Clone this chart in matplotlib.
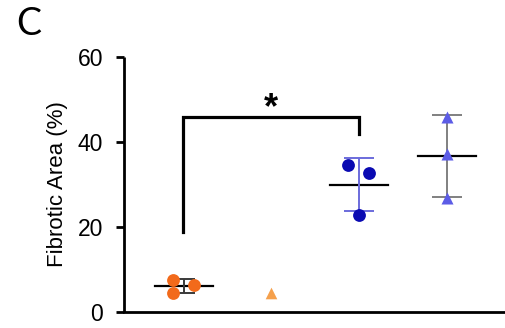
import matplotlib
matplotlib.use("Agg")
import matplotlib.pyplot as plt
import numpy as np

# fibrotic area per animal, four groups
group_pos = [0, 1, 2, 3]
vals_g1 = [7.5, 4.4, 6.35]
vals_g2 = [4.4]
vals_g3 = [34.6, 32.6, 22.8]
vals_g4 = [46.0, 37.2, 26.8]

yticks = [0, 20, 40, 60]
ylabel = "Fibrotic Area (%)"
panel = "C"

# significance bracket between group 1 and group 3
bracket_x = [0, 2]
bracket_y = [18.8, 45.8, 41.9]
star = "*"

# horizontal scatter of the dots inside a column
jit_g1 = [-0.117, -0.117, 0.117]
jit_g3 = [-0.12, 0.113, 0.0]
jit_g4 = [0.0, 0.0, 0.0]

plt.rcParams["font.family"] = ["Liberation Sans", "DejaVu Sans"]

fig = plt.figure(figsize=(5.06, 3.28), dpi=100)
ax = fig.add_axes([124 / 506, 1 - 312 / 328, 1 - 124 / 506, (312 - 57) / 328])


def column(x, vals, jit, marker, color, size, ebar_color, cap=0.17):
    vals = np.array(vals)
    xs = x + np.array(jit)
    ax.scatter(xs, vals, marker=marker, s=size, color=color, zorder=3,
               linewidths=0)
    if len(vals) > 1:
        m = vals.mean()
        sd = vals.std(ddof=1)
        ax.plot([x - 0.33, x + 0.33], [m, m], color="black", lw=1.6, zorder=2)
        ax.errorbar(x, m, yerr=sd, fmt="none", ecolor=ebar_color,
                    elinewidth=1.4, capsize=cap * 88.2 * 0.72, capthick=1.4,
                    zorder=2)


column(group_pos[0] + 0.01, vals_g1, jit_g1, "o", "#f26a1b", 85, "#3a3a3a", cap=0.12)
ax.scatter([group_pos[1]], vals_g2, marker="^", s=70, color="#f5a04c",
           zorder=3, linewidths=0)
column(group_pos[2], vals_g3, jit_g3, "o", "#0a0ab2", 85, "#6b6bdc")
column(group_pos[3], vals_g4, jit_g4, "^", "#5c5ce6", 75, "#808080")

ax.plot([bracket_x[0], bracket_x[0], bracket_x[1], bracket_x[1]],
        [bracket_y[0], bracket_y[1], bracket_y[1], bracket_y[2]],
        color="black", lw=2.3, solid_joinstyle="miter", zorder=2)
ax.text(sum(bracket_x) / 2, bracket_y[1] - 0.3, star, ha="center",
        va="baseline", fontsize=26, fontweight="bold")

ax.set_xlim(-0.669, 3.669)
ax.set_ylim(0, 60)
ax.set_yticks(yticks)
ax.set_xticks([])
ax.tick_params(axis="y", length=6, width=2, labelsize=16.5, pad=9)
ax.set_ylabel(ylabel, fontsize=16, labelpad=7)

for s in ["top", "right"]:
    ax.spines[s].set_visible(False)
for s in ["left", "bottom"]:
    ax.spines[s].set_linewidth(2)
ax.spines["left"].set_capstyle("butt")

fig.text(16 / 506, 1 - 35 / 328, panel, fontsize=27, family="Lato",
         va="baseline", ha="left")

fig.savefig("out.png", dpi=100)
